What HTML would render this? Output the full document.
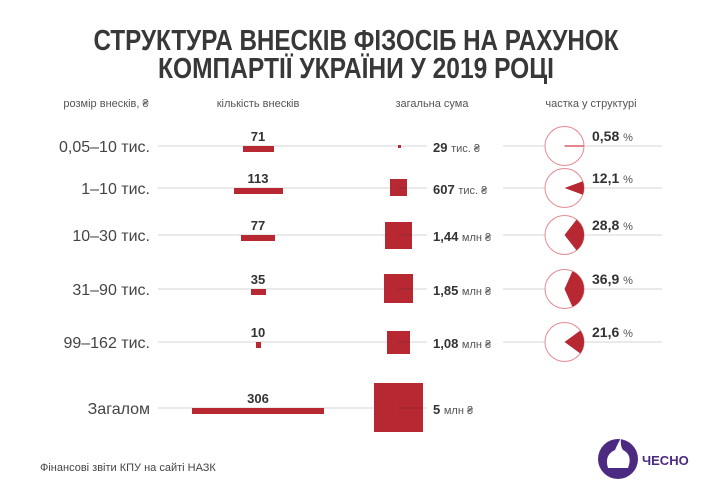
<!DOCTYPE html>
<html><head><meta charset="utf-8"><style>
html,body{margin:0;padding:0;background:#fff}
svg{display:block}
text{font-family:"Liberation Sans",sans-serif}
.t{font-family:"Liberation Sans Narrow","Liberation Sans",sans-serif;font-weight:bold;fill:#383838;font-size:29px}
.h{font-size:11px;fill:#555}
.l{font-size:16px;fill:#444}
.n{font-size:13px;font-weight:bold;fill:#333}
.u{font-size:11px;fill:#555;font-weight:normal}
.p{font-size:14px;font-weight:bold;fill:#333}
</style></head><body>
<svg width="713" height="493" viewBox="0 0 713 493">
<text class="t" x="356" y="50" text-anchor="middle" textLength="525" lengthAdjust="spacingAndGlyphs">СТРУКТУРА ВНЕСКІВ ФІЗОСІБ НА РАХУНОК</text>
<text class="t" x="356" y="78" text-anchor="middle" textLength="396" lengthAdjust="spacingAndGlyphs">КОМПАРТІЇ УКРАЇНИ У 2019 РОЦІ</text>
<text class="h" x="106" y="107" text-anchor="middle">розмір внесків, ₴</text>
<text class="h" x="258" y="107" text-anchor="middle">кількість внесків</text>
<text class="h" x="432" y="107" text-anchor="middle">загальна сума</text>
<text class="h" x="591" y="107" text-anchor="middle">частка у структурі</text>
<g stroke="#ddd" stroke-width="1.2">
<line x1="158" y1="146" x2="427" y2="146"/><line x1="503" y1="146" x2="662" y2="146"/>
<line x1="158" y1="188" x2="427" y2="188"/><line x1="503" y1="188" x2="662" y2="188"/>
<line x1="158" y1="235" x2="427" y2="235"/><line x1="503" y1="235" x2="662" y2="235"/>
<line x1="158" y1="289" x2="427" y2="289"/><line x1="503" y1="289" x2="662" y2="289"/>
<line x1="158" y1="342" x2="427" y2="342"/><line x1="503" y1="342" x2="662" y2="342"/>
<line x1="158" y1="408" x2="427" y2="408"/>
</g>
<g text-anchor="end" class="l">
<text x="150" y="152">0,05–10 тис.</text>
<text x="150" y="194">1–10 тис.</text>
<text x="150" y="241">10–30 тис.</text>
<text x="150" y="295">31–90 тис.</text>
<text x="150" y="348">99–162 тис.</text>
<text x="150" y="414">Загалом</text>
</g>
<g fill="#b82833">
<rect x="243" y="146" width="31" height="6"/>
<rect x="234" y="188" width="49" height="6"/>
<rect x="241" y="235" width="34" height="6"/>
<rect x="251" y="289" width="15" height="6"/>
<rect x="256" y="342" width="5" height="6"/>
<rect x="192" y="408" width="132" height="6"/>
<rect x="398" y="145" width="3" height="3"/>
<rect x="390" y="179" width="17" height="17"/>
<rect x="385" y="222" width="27" height="27"/>
<rect x="384" y="274" width="29" height="29"/>
<rect x="387" y="331" width="23" height="23"/>
<rect x="374" y="383" width="49" height="49"/>
</g>
<g stroke="#7a2a30" stroke-width="1" opacity="0.6">
<line x1="398" y1="188" x2="407" y2="188"/><line x1="398" y1="235" x2="412" y2="235"/>
<line x1="398" y1="289" x2="413" y2="289"/><line x1="398" y1="342" x2="410" y2="342"/>
<line x1="398" y1="408" x2="423" y2="408"/>
</g>
<g class="n" text-anchor="middle">
<text x="258" y="141">71</text><text x="258" y="183">113</text><text x="258" y="230">77</text>
<text x="258" y="284">35</text><text x="258" y="337">10</text><text x="258" y="403">306</text>
</g>
<g class="n">
<text x="433" y="152">29 <tspan class="u">тис. ₴</tspan></text>
<text x="433" y="194">607 <tspan class="u">тис. ₴</tspan></text>
<text x="433" y="241">1,44 <tspan class="u">млн ₴</tspan></text>
<text x="433" y="295">1,85 <tspan class="u">млн ₴</tspan></text>
<text x="433" y="348">1,08 <tspan class="u">млн ₴</tspan></text>
<text x="433" y="414">5 <tspan class="u">млн ₴</tspan></text>
</g>
<g fill="#fff" stroke="#e58a90" stroke-width="1">
<circle cx="564.5" cy="146" r="19.5"/><circle cx="564.5" cy="188" r="19.5"/>
<circle cx="564.5" cy="235" r="19.5"/><circle cx="564.5" cy="289" r="19.5"/>
<circle cx="564.5" cy="342" r="19.5"/>
</g>
<g fill="#b82833">
<rect x="564.5" y="145.2" width="19.5" height="1.6" fill="#d86a72"/>
<path d="M564.5 188 L582.8 181.3 A19.5 19.5 0 0 1 582.8 194.7 Z"/>
<path d="M564.5 235 L576.5 219.6 A19.5 19.5 0 0 1 576.5 250.4 Z"/>
<path d="M564.5 289 L572.4 271.2 A19.5 19.5 0 0 1 572.4 306.8 Z"/>
<path d="M564.5 342 L580.3 330.5 A19.5 19.5 0 0 1 580.3 353.5 Z"/>
</g>
<g class="p">
<text x="592" y="141">0,58 <tspan class="u" font-size="12">%</tspan></text>
<text x="592" y="183">12,1 <tspan class="u" font-size="12">%</tspan></text>
<text x="592" y="230">28,8 <tspan class="u" font-size="12">%</tspan></text>
<text x="592" y="284">36,9 <tspan class="u" font-size="12">%</tspan></text>
<text x="592" y="337">21,6 <tspan class="u" font-size="12">%</tspan></text>
</g>
<text x="40" y="471" font-size="11" fill="#444">Фінансові звіти КПУ на сайті НАЗК</text>
<circle cx="618" cy="459" r="20" fill="#4d2a82"/>
<path d="M608 468 Q604 455 615 450 Q618 443 621 438 Q620 446 623 450 Q633 455 628 468 Z" fill="#fff"/>
<text x="642" y="465" font-size="13" font-weight="bold" fill="#4d2a82">ЧЕСНО</text>
</svg>
</body></html>
